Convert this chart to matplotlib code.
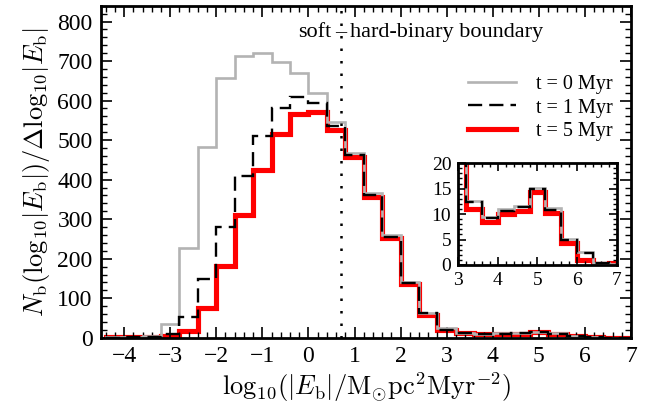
import matplotlib
matplotlib.use('Agg')
import matplotlib.pyplot as plt
from matplotlib.ticker import MultipleLocator
import numpy as np

plt.rcParams['font.family'] = 'serif'
plt.rcParams['font.serif'] = ['Liberation Serif', 'DejaVu Serif']
plt.rcParams['mathtext.fontset'] = 'cm'

# histogram bin edges in log10|E_b|
edges = np.round(np.arange(-4.4, 7.21, 0.4), 1)

n_t0 = [1, 2, 5, 34, 228, 483, 657, 714, 720, 697, 669, 620, 545, 468, 366, 260,
        142, 64, 24, 12.6, 9.5, 11.0, 11.5, 15.1, 11.1, 5.2, 2.6, 0.3, 0.1]
n_t1 = [0.5, 1, 3, 10, 52, 150, 281, 408, 511, 582, 609, 593, 536, 462, 361, 256,
        139, 62, 21, 12.3, 9.3, 10.7, 11.3, 14.9, 10.8, 5.0, 2.3, 0.3, 0.1]
n_t5 = [2, 3, 3, 5, 18, 76, 181, 311, 425, 516, 566, 571, 526, 457, 357, 252,
        136, 57, 21, 11.0, 8.5, 10.0, 10.7, 14.3, 10.2, 4.4, 1.0, 0.2, 0.3]
labels = ['t = 0 Myr', 't = 1 Myr', 't = 5 Myr']
e_boundary = 0.7


def draw_hists(ax):
    ax.stairs(n_t5, edges, color='red', lw=3.7, zorder=1, label=labels[2])
    ax.stairs(n_t0, edges, color='#b3b3b3', lw=1.9, zorder=2, label=labels[0])
    ax.stairs(n_t1, edges, color='black', lw=1.7, ls=(0, (6, 3)), zorder=3,
              label=labels[1])


def style_ticks(ax, size):
    ax.tick_params(which='both', direction='in', top=True, right=True, labelsize=size)
    ax.tick_params(which='major', length=8, width=1.2, pad=6)
    ax.tick_params(which='minor', length=4, width=1.0)
    for s in ax.spines.values():
        s.set_linewidth(2.0)


fig = plt.figure(figsize=(6.56, 4.07), dpi=100)
ax = fig.add_axes([0.154, 0.17, 0.808, 0.816])
draw_hists(ax)
ax.axvline(e_boundary, color='black', ls=(0, (1, 4)), lw=1.8, zorder=4)
ax.set_xlim(-4.5, 7)
ax.set_ylim(0, 840)
ax.xaxis.set_major_locator(MultipleLocator(1))
ax.xaxis.set_minor_locator(MultipleLocator(0.2))
ax.yaxis.set_major_locator(MultipleLocator(100))
ax.yaxis.set_minor_locator(MultipleLocator(20))
style_ticks(ax, 17)
ax.set_xlabel(r'${\rm log}_{10}(|E_{\rm b}|/{\rm M_{\odot}pc^{2}Myr^{-2}})$', fontsize=19, labelpad=2)
ax.set_ylabel(r'$N_{\rm b}({\rm log}_{10}|E_{\rm b}|)/\Delta{\rm log}_{10}|E_{\rm b}|$', fontsize=19,
              labelpad=4)

ax.text(e_boundary - 0.2, 772, 'soft', ha='right', va='center', fontsize=16)
ax.text(e_boundary, 772, '\u2013', ha='center', va='center', fontsize=16)
ax.text(e_boundary + 0.2, 772, 'hard-binary boundary', ha='left', va='center', fontsize=16)

h, l = ax.get_legend_handles_labels()
order = [1, 2, 0]
ax.legend([h[i] for i in order], [l[i] for i in order], loc='upper right',
          bbox_to_anchor=(1.0, 0.845), frameon=False, fontsize=14.5, handlelength=2.4,
          handletextpad=1.0, labelspacing=0.2)

# zoom on the high-energy tail
axin = fig.add_axes([0.6986, 0.349, 0.2415, 0.25])
draw_hists(axin)
axin.set_xlim(3, 7)
axin.set_ylim(0, 20)
axin.xaxis.set_major_locator(MultipleLocator(1))
axin.xaxis.set_minor_locator(MultipleLocator(0.2))
axin.yaxis.set_major_locator(MultipleLocator(5))
axin.yaxis.set_minor_locator(MultipleLocator(1))
style_ticks(axin, 14)
axin.tick_params(which='major', length=6, pad=5)
axin.tick_params(which='minor', length=3)

fig.savefig('out.png', dpi=100)
